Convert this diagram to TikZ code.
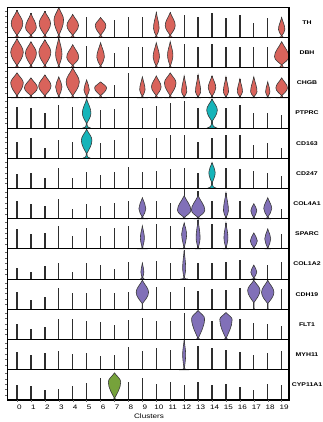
\documentclass[tikz,border=0pt]{standalone}
\usepackage{fontspec}
\newfontfamily\plotfont{Liberation Sans}
\definecolor{vred}{HTML}{D9635B}
\definecolor{vcyan}{HTML}{16B4B9}
\definecolor{vpurple}{HTML}{8170B8}
\definecolor{vgreen}{HTML}{76A23B}
\definecolor{vline}{HTML}{3A3A3A}

% one violin: colour, cluster, row, top, bulge height, half width, neck, foot
\newcommand{\violin}[8]{%
  \begin{scope}[shift={({17+13.93*#2},{7.3+30.2*(#3+1)})}]
  \filldraw[fill=#1,draw=vline,line width=0.6pt] (0,-#4)
    .. controls ({0.4*#6},{-#4+0.4*(#4-#5)}) and (#6,{-#5-0.35*(#4-#5)}) .. (#6,-#5)
    .. controls (#6,{-#5+0.4*(#5-#7)}) and ({0.35*#6},{-#7-0.25*(#5-#7)}) .. (0.3,-#7)
    .. controls (0.3,{-0.3*#7}) and ({0.4*#8},0) .. (#8,0)
    -- (-#8,0)
    .. controls ({-0.4*#8},0) and (-0.3,{-0.3*#7}) .. (-0.3,-#7)
    .. controls ({-0.35*#6},{-#7-0.25*(#5-#7)}) and (-#6,{-#5+0.4*(#5-#7)}) .. (-#6,-#5)
    .. controls (-#6,{-#5-0.35*(#4-#5)}) and ({-0.4*#6},{-#4+0.4*(#4-#5)}) .. cycle;
  \end{scope}}

\begin{document}
\begin{tikzpicture}[x=1pt,y=-1pt,
  stem/.style={draw=vline!80!black,line width=1.3pt},
  frame/.style={draw=black,line width=1.1pt},
  tickmark/.style={draw=black!60,line width=0.4pt},
  genelab/.style={font=\plotfont\bfseries\fontsize{5.4}{6}\selectfont,xscale=1.28,inner sep=0pt},
  clab/.style={font=\plotfont\fontsize{6.5}{7}\selectfont,xscale=1.25,inner sep=0pt}]
\useasboundingbox (0,0) rectangle (322,422);

% stems
\foreach \g/\hs [count=\r from 0] in {
  TH/{27,24,26,30,23,20,20,17,20,20,25,25,22,20,24,19,22,14,19,20},
  DBH/{29,26,28,30,23,22,25,15,21,21,25,26,24,21,24,21,21,21,21,26},
  CHGB/{25,20,23,21,30,18,16,13,25,21,22,25,22,23,22,21,19,21,16,20},
  PTPRC/{21,20,15,23,21,29,18,19,30,20,22,25,27,20,29,20,23,15,15,13},
  CD163/{16,20,10,18,16,29,15,18,30,20,20,23,23,16,20,23,23,13,15,10},
  CD247/{15,16,11,21,11,17,14,17,22,17,18,20,21,16,26,21,20,18,16,13},
  COL4A1/{18,15,13,20,10,15,13,16,18,21,18,16,30,28,18,26,18,15,21,10},
  SPARC/{20,15,16,23,13,21,13,21,23,23,25,23,26,29,25,26,20,16,20,15},
  COL1A2/{11,7,13,16,7,16,14,10,17,16,18,16,29,16,16,17,19,14,14,17},
  CDH19/{17,9,12,21,16,16,20,16,17,29,22,17,22,18,20,19,21,29,29,20},
  FLT1/{16,11,13,21,21,19,18,15,20,22,19,19,27,29,19,27,21,17,16,14},
  MYH11/{18,15,17,19,16,17,14,15,23,19,22,20,30,24,22,20,18,15,17,19},
  CYP11A1/{15,14,10,11,14,17,22,27,18,22,16,18,15,18,15,16,13,10,16,15}}{
  \node[genelab] (gene-\g) at (307,{7.3+30.2*(\r+0.5)}) {\g};
  \foreach \h [count=\c from 0] in \hs
    \draw[stem] ({17+13.93*\c},{7.3+30.2*(\r+1)}) -- ++(0,-\h);
}

% violins
\foreach \vc/\vx/\vr/\vt/\vb/\vw/\vn/\vf in {
  vred/0/0/27/14/5.8/2.5/3.5, vred/1/0/24/10/5.4/2.5/3.5, vred/2/0/26/14/5.7/2.5/3.5,
  vred/3/0/30/17.5/4.8/2.5/3, vred/4/0/23/12/5.8/2.5/3.5, vred/6/0/20/12/5.3/2.5/3.5,
  vred/10/0/25/9/2.8/2/2.5, vred/11/0/25/12/5/2.5/3.5, vred/19/0/20/8/3.2/2/3.5,
  vred/0/1/29/15.5/6.3/2.5/4, vred/1/1/26/14.5/5.5/2.5/3.5, vred/2/1/28/15.5/6/2.5/4,
  vred/3/1/30/13.5/3.2/2/3, vred/4/1/23/10.5/6/2.5/4, vred/6/1/25/10.5/3.8/2/3,
  vred/10/1/25/10.5/3.2/2/3, vred/11/1/26/12.5/2.7/2/3, vred/19/1/26/11/7.2/3/4.5,
  vred/0/2/25/15/6.3/2.5/3.5, vred/1/2/20/10/6.5/2.5/3.5, vred/2/2/23/12/6.2/2.5/3.5,
  vred/3/2/21/11/3.2/2/3, vred/4/2/30/16/6.6/2.5/3.5, vred/5/2/18/8/2.7/2/3,
  vred/6/2/16/10/6/2.5/3.5, vred/9/2/21/8/2.7/2/3, vred/10/2/22/11/4.8/2.5/3.5,
  vred/11/2/25/15/5.8/2.5/3.5, vred/12/2/22/6/2.6/1.5/3, vred/13/2/23/6/2.6/1.5/3,
  vred/14/2/22/10/3.8/2/3.5, vred/15/2/21/6/2.6/1.5/3, vred/16/2/19/6/2.6/1.5/3,
  vred/17/2/21/6/3.2/1.5/3.5, vred/18/2/16/6/2.2/1.5/3, vred/19/2/20/10/5.8/2.5/3.5,
  vcyan/5/3/29/15/4.3/5/4, vcyan/14/3/29/18/5.3/7/5, vcyan/5/4/29/18/5.3/5/4,
  vcyan/14/5/26/16/3.2/6/5,
  vpurple/9/6/21/10/3.5/2/3, vpurple/12/6/23/8.5/6.7/1.5/4.5, vpurple/13/6/23/8.5/6.7/1.5/4.5,
  vpurple/15/6/26/8/2.5/1.5/3, vpurple/17/6/15/8/3/1.5/3, vpurple/18/6/21/10/4/2/3.5,
  vpurple/9/7/23/11/2/1.5/2.5, vpurple/12/7/26/15/2.5/2/3, vpurple/13/7/29/11/2/1.5/3,
  vpurple/15/7/26/11/2/1.5/3, vpurple/17/7/16/8/3.5/1.5/3, vpurple/18/7/20/10/3/1.5/3,
  vpurple/9/8/16/7/1.5/1.5/2, vpurple/12/8/29/11/1.5/1.5/4, vpurple/17/8/14/7/3/1.5/2.5,
  vpurple/9/9/29/17/6.2/6/0.6, vpurple/17/9/29/19/6.2/7/0.6, vpurple/18/9/29/17/6.2/6/0.6,
  vpurple/13/10/29/21/6.5/1.5/2, vpurple/15/10/27/20/6.2/1.5/2,
  vpurple/12/11/30/15/1.5/1.5/5,
  vgreen/7/12/27/18/6.2/2/3}
  \violin{\vc}{\vx}{\vr}{\vt}{\vb}{\vw}{\vn}{\vf};

% frame, rows and ticks
\foreach \r in {1,...,12}
  \draw[line width=0.9pt] (7.3,{7.3+30.2*\r}) -- (289,{7.3+30.2*\r});
\draw[frame] (7.3,7.3) rectangle (289,400);
\foreach \r in {0,...,12}
  \foreach \f in {0.12,0.3,0.48,0.66,0.84}
    \draw[tickmark] (5.2,{7.3+30.2*(\r+\f)}) -- (7.3,{7.3+30.2*(\r+\f)});
\foreach \c in {0,...,19}{
  \draw[tickmark] ({17+13.93*\c},400) -- ++(0,2.2);
  \node[clab] (cl-\c) at ({19.5+13.93*\c},407) {\c};
}
\node[clab] (xlabel) at (149,416.5) {Clusters};
\end{tikzpicture}
\end{document}
